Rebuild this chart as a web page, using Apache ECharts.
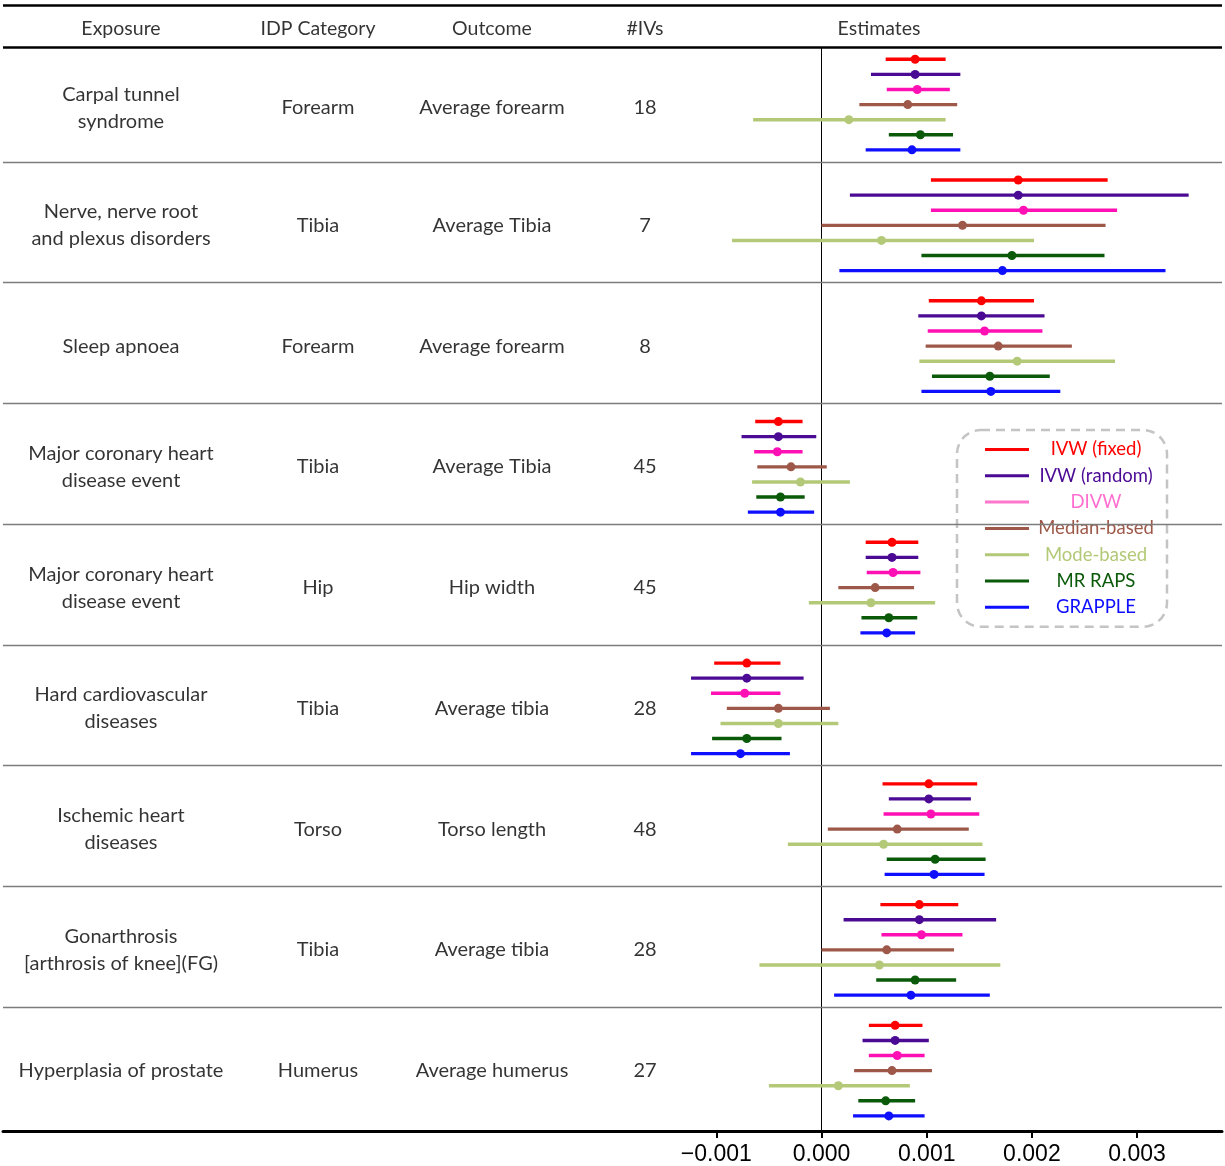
<!DOCTYPE html>
<html><head><meta charset="utf-8">
<script src="https://cdn.jsdelivr.net/npm/echarts@6/dist/echarts.min.js"></script>
<style>html,body{margin:0;padding:0;background:#fff}#c{width:1225px;height:1166px}</style>
</head><body><div id="c"></div>
<script>
// ---------------- data ----------------
const headers = ['Exposure', 'IDP Category', 'Outcome', '#IVs', 'Estimates'];
const exposures = ['Carpal tunnel\nsyndrome', 'Nerve, nerve root\nand plexus disorders', 'Sleep apnoea',
  'Major coronary heart\ndisease event', 'Major coronary heart\ndisease event', 'Hard cardiovascular\ndiseases',
  'Ischemic heart\ndiseases', 'Gonarthrosis\n[arthrosis of knee](FG)', 'Hyperplasia of prostate'];
const idpCategories = ['Forearm', 'Tibia', 'Forearm', 'Tibia', 'Hip', 'Tibia', 'Torso', 'Tibia', 'Humerus'];
const outcomes = ['Average forearm', 'Average Tibia', 'Average forearm', 'Average Tibia', 'Hip width',
  'Average tibia', 'Torso length', 'Average tibia', 'Average humerus'];
const numIVs = ['18', '7', '8', '45', '45', '28', '48', '28', '27'];
const methods = ['IVW (fixed)', 'IVW (random)', 'DIVW', 'Median-based', 'Mode-based', 'MR RAPS', 'GRAPPLE'];
const xTicks = [-0.001, 0, 0.001, 0.002, 0.003];
// estimates, in units of 1e-3: [lower, estimate, upper] per exposure row
const unit = 1e-3;
const ivwFixed = [[0.61,0.89,1.18],[1.04,1.87,2.72],[1.02,1.52,2.02],[-0.63,-0.41,-0.18],[0.42,0.67,0.92],[-1.02,-0.71,-0.39],[0.58,1.02,1.48],[0.56,0.93,1.30],[0.45,0.70,0.96]];
const ivwRandom = [[0.47,0.89,1.32],[0.27,1.87,3.49],[0.92,1.52,2.12],[-0.76,-0.41,-0.05],[0.42,0.67,0.92],[-1.24,-0.71,-0.17],[0.64,1.02,1.42],[0.21,0.93,1.66],[0.39,0.70,1.02]];
const divw = [[0.62,0.91,1.22],[1.04,1.92,2.81],[1.01,1.55,2.10],[-0.64,-0.42,-0.18],[0.43,0.68,0.94],[-1.05,-0.73,-0.39],[0.59,1.04,1.50],[0.57,0.95,1.34],[0.45,0.72,0.98]];
const medianBased = [[0.36,0.82,1.29],[0.00,1.34,2.70],[0.99,1.68,2.38],[-0.61,-0.29,0.05],[0.16,0.51,0.88],[-0.90,-0.41,0.08],[0.06,0.72,1.40],[0.00,0.62,1.26],[0.31,0.67,1.05]];
const modeBased = [[-0.65,0.26,1.18],[-0.85,0.57,2.02],[0.93,1.86,2.79],[-0.66,-0.20,0.27],[-0.12,0.47,1.08],[-0.96,-0.41,0.16],[-0.32,0.59,1.53],[-0.59,0.55,1.70],[-0.50,0.16,0.84]];
const mrRaps = [[0.64,0.94,1.25],[0.95,1.81,2.69],[1.05,1.60,2.17],[-0.62,-0.39,-0.16],[0.38,0.64,0.91],[-1.04,-0.71,-0.38],[0.62,1.08,1.56],[0.52,0.89,1.28],[0.35,0.61,0.89]];
const grapple = [[0.42,0.86,1.32],[0.17,1.72,3.27],[0.95,1.61,2.27],[-0.70,-0.39,-0.07],[0.37,0.62,0.89],[-1.24,-0.77,-0.30],[0.60,1.07,1.55],[0.12,0.85,1.60],[0.30,0.64,0.98]];
const methodData = [ivwFixed, ivwRandom, divw, medianBased, modeBased, mrRaps, grapple];

// ---------------- styles / layout ----------------
const colors = ['#ff0000', '#4b0a94', '#ff10b4', '#9e5849', '#b3c978', '#0a5a0a', '#0f0fff'];
const legendTextColors = ['#ff0000', '#4b0a94', '#ff6fd0', '#9e5849', '#b3c978', '#0a5a0a', '#0f0fff'];
const legendIconColors = ['#ff0000', '#4b0a94', '#ff77cc', '#9e5849', '#b3c978', '#0a5a0a', '#0f0fff'];
const colX = [121, 318, 492, 645, 879];
const SLOTS = 8;            // 7 methods + 1 gap per row
const nRows = exposures.length;
const FONT = 'Lato';

const chart = echarts.init(document.getElementById('c'));

// table text
const headerData = headers.map((h, i) => [colX[i], -1.0, h]);
const cellData = [];
for (let r = 0; r < nRows; r++) {
  const mid = r * SLOTS + 4 + (r === 0 ? 0.2 : 0);
  cellData.push([colX[0], mid, exposures[r]]);
  cellData.push([colX[1], mid, idpCategories[r]]);
  cellData.push([colX[2], mid, outcomes[r]]);
  cellData.push([colX[3], mid, numIVs[r]]);
}
const dividerLines = [];
for (let r = 1; r < nRows; r++) dividerLines.push({ yAxis: r * SLOTS - 0.2,
  lineStyle: { color: '#7c7c7c', width: 1.4, type: 'solid' } });

const methodSeries = methods.map((m, j) => ({
  name: m,
  type: 'custom',
  xAxisIndex: 1, yAxisIndex: 1,
  itemStyle: { color: colors[j] },
  encode: { x: [1, 2, 3], y: 0 },
  data: methodData[j].map((v, r) => [r * SLOTS + 1 + j, v[0] * unit, v[1] * unit, v[2] * unit]),
  renderItem: (params, api) => {
    const y = api.value(0);
    const a = api.coord([api.value(1), y]);
    const p = api.coord([api.value(2), y]);
    const b = api.coord([api.value(3), y]);
    return {
      type: 'group',
      children: [
        { type: 'line', shape: { x1: a[0], y1: a[1], x2: b[0], y2: b[1] },
          style: { stroke: colors[j], lineWidth: 3.4 } },
        { type: 'circle', shape: { cx: p[0], cy: p[1], r: 4.5 }, style: { fill: colors[j] } }
      ]
    };
  },
  z: 5
}));
// zero reference line
methodSeries[0].markLine = {
  silent: true, symbol: 'none', label: { show: false },
  lineStyle: { color: '#000', width: 1, type: 'solid' },
  data: [{ xAxis: 0 }], z: 1
};

const richStyles = {};
methods.forEach((m, j) => {
  richStyles['m' + j] = { color: legendTextColors[j], width: 124, align: 'center', fontSize: 18.5,
    fontFamily: FONT, lineHeight: 20 };
});

const option = {
  backgroundColor: '#fff',
  animation: false,
  grid: [
    { left: 3, right: 3, top: 0, bottom: 35 },
    { left: 680, right: 3, top: 47, bottom: 35 }
  ],
  xAxis: [
    { gridIndex: 0, type: 'value', min: 3, max: 1222, position: 'bottom',
      axisLine: { show: true, onZero: false, lineStyle: { color: '#000', width: 3 } },
      axisTick: { show: false }, axisLabel: { show: false }, splitLine: { show: false } },
    { gridIndex: 1, type: 'value', min: -0.001345, max: 0.003807, position: 'bottom',
      axisLine: { show: false, onZero: false },
      axisTick: { show: true, customValues: xTicks, length: 7, lineStyle: { color: '#000', width: 2 } },
      axisLabel: { show: true, customValues: xTicks, margin: 12, fontSize: 23, color: '#000',
        fontFamily: 'Liberation Sans',
        formatter: v => (v < 0 ? '\u2212' : '') + Math.abs(v).toFixed(3) },
      splitLine: { show: false } }
  ],
  yAxis: [
    { gridIndex: 0, type: 'value', inverse: true, min: -2.93, max: nRows * SLOTS, show: false },
    { gridIndex: 1, type: 'value', inverse: true, min: 0.185, max: nRows * SLOTS, show: false }
  ],
  legend: {
    orient: 'vertical', left: 957, top: 430,
    padding: [10, 9, 10, 28],
    itemWidth: 44, itemHeight: 3, itemGap: 7.3,
    icon: 'rect',
    selectedMode: false,
    backgroundColor: '#fff',
    borderColor: '#c4c4c4', borderWidth: 2.5, borderType: [9, 6], borderRadius: 24,
    data: methods.map((m, j) => ({ name: m, itemStyle: { color: legendIconColors[j] } })),
    formatter: name => '{m' + methods.indexOf(name) + '|' + name + '}',
    textStyle: { rich: richStyles, fontFamily: FONT, fontSize: 18.5 }
  },
  series: [
    {
      type: 'scatter', xAxisIndex: 0, yAxisIndex: 0, symbolSize: 0, silent: true,
      data: headerData,
      label: { show: true, position: 'inside', formatter: p => p.value[2],
        color: '#000', fontSize: 19.5, fontFamily: FONT, align: 'center', verticalAlign: 'middle' },
      markLine: {
        silent: true, symbol: 'none', label: { show: false },
        data: [
          { yAxis: -2.6, lineStyle: { color: '#000', width: 2.5, type: 'solid' } },
          { yAxis: 0.19, lineStyle: { color: '#000', width: 2.5, type: 'solid' } },
          ...dividerLines
        ]
      },
      z: 3
    },
    {
      type: 'scatter', xAxisIndex: 0, yAxisIndex: 0, symbolSize: 0, silent: true,
      data: cellData,
      label: { show: true, position: 'inside', formatter: p => p.value[2],
        color: '#000', fontSize: 20, fontFamily: FONT, lineHeight: 27, align: 'center', verticalAlign: 'middle' },
      z: 3
    },
    ...methodSeries
  ]
};
chart.setOption(option);
</script>
</body></html>
